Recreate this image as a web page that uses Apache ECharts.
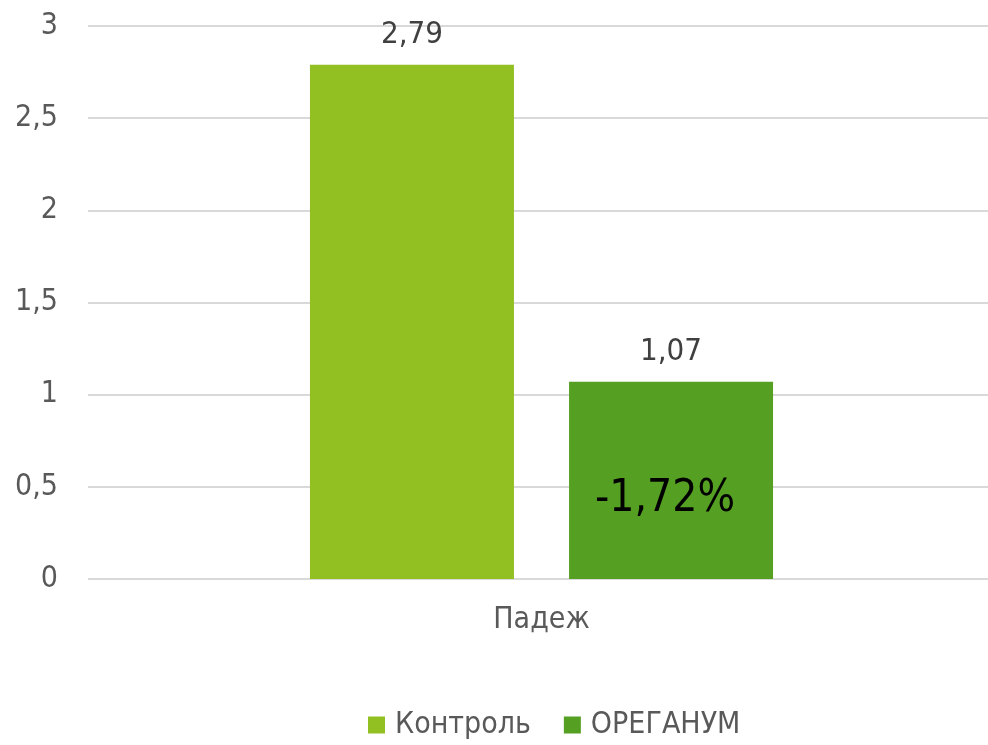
<!DOCTYPE html>
<html>
<head>
<meta charset="utf-8">
<script src="https://cdn.jsdelivr.net/npm/echarts@6/dist/echarts.min.js"></script>
<style>
  html, body { margin: 0; padding: 0; background: #fff; }
  #chart { width: 988px; height: 745px; }
</style>
</head>
<body>
<div id="chart"></div>
<script>
const categories = ['Падеж'];
const seriesNames = ['Контроль', 'ОРЕГАНУМ'];
const controlValues = [2.79];
const oreganumValues = [1.07];
const changeLabel = '-1,72%';
const changeLabelAt = 0.43;
const yTicks = { min: 0, max: 3, interval: 0.5 };

const fmt = v => String(v).replace('.', ',');
const font = '"DejaVu Sans Condensed", "DejaVu Sans", sans-serif';

const init = () => {
    const myChart = echarts.init(document.getElementById('chart'));
    let option = {
        animation: false,
        color: ['#92C022', '#55A022'],
        textStyle: { fontFamily: font },
        grid: { left: 88, right: -7, top: 26, bottom: 166, outerBoundsMode: 'none' },
        legend: {
            bottom: 0,
            left: 363,
            icon: 'rect',
            itemWidth: 17,
            itemHeight: 17,
            itemGap: 33,
            textStyle: { fontSize: 30, color: '#595959', fontFamily: font, padding: [0, 0, 0, 5] }
        },
        xAxis: {
            type: 'category',
            data: categories,
            axisLine: { show: false },
            axisTick: { show: false },
            axisLabel: { fontSize: 30, color: '#595959', margin: 26, fontFamily: font }
        },
        yAxis: {
            type: 'value',
            min: yTicks.min,
            max: yTicks.max,
            interval: yTicks.interval,
            axisLine: { show: false },
            axisTick: { show: false },
            axisLabel: { fontSize: 30, color: '#595959', margin: 30, formatter: fmt, fontFamily: font },
            splitLine: { lineStyle: { color: '#D9D9D9', width: 2 } }
        },
        series: [
            {
                name: seriesNames[0],
                type: 'bar',
                data: controlValues,
                barWidth: 204,
                barGap: '27%',
                label: { show: true, position: 'top', distance: 14, fontSize: 31, color: '#404040', formatter: p => fmt(p.value), fontFamily: font }
            },
            {
                name: seriesNames[1],
                type: 'bar',
                data: oreganumValues,
                barWidth: 204,
                barGap: '27%',
                label: { show: true, position: 'top', distance: 14, fontSize: 31, color: '#404040', formatter: p => fmt(p.value), fontFamily: font },
                markPoint: {
                    symbol: 'rect',
                    symbolSize: 1,
                    itemStyle: { color: 'rgba(0,0,0,0)' },
                    label: { show: true, position: 'inside', offset: [-6, 0], fontSize: 44, color: '#000', fontFamily: font, formatter: () => changeLabel },
                    data: [{ coord: [0, changeLabelAt] }]
                }
            }
        ]
    };
    myChart.setOption(option);
};
init();
</script>
</body>
</html>
